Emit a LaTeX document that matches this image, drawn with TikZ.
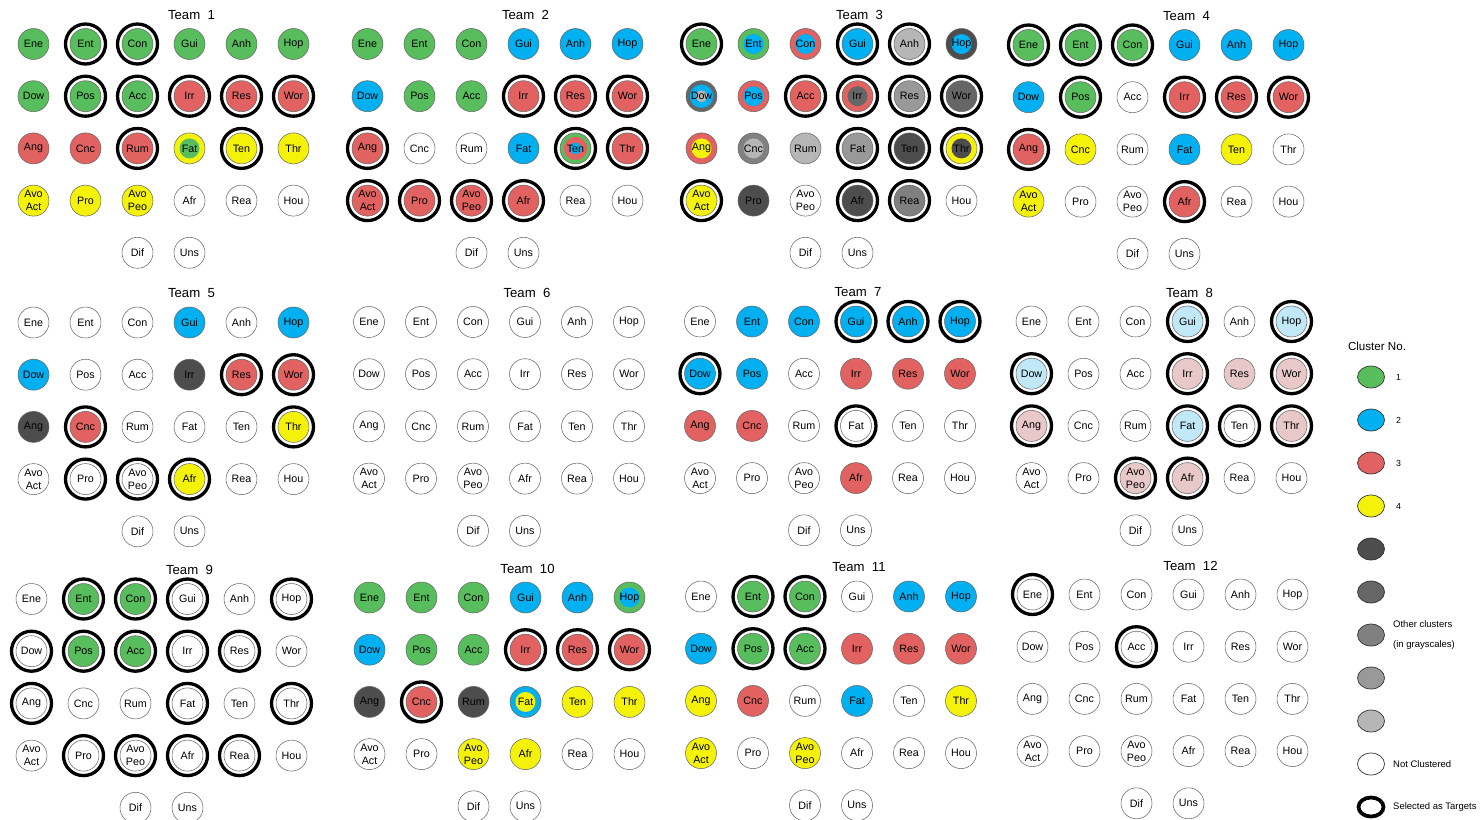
\documentclass[tikz,border=0pt]{standalone}
\usepackage{fontspec}
\setmainfont{Liberation Sans}
\usetikzlibrary{shapes.geometric}

\definecolor{kgreen}{RGB}{88,189,92}
\definecolor{kblue}{RGB}{0,176,240}
\definecolor{kred}{RGB}{226,98,98}
\definecolor{kyellow}{RGB}{245,242,10}
\definecolor{kgrayA}{RGB}{77,77,77}
\definecolor{kgrayB}{RGB}{102,102,102}
\definecolor{kgrayC}{RGB}{128,128,128}
\definecolor{kgrayD}{RGB}{153,153,153}
\definecolor{kgrayE}{RGB}{182,182,182}
\definecolor{klblue}{RGB}{192,232,246}
\definecolor{klpink}{RGB}{232,200,200}

% labels of the 26 items, in reading order
\foreach \lbl [count=\n from 0] in {Ene,Ent,Con,Gui,Anh,Hop,Dow,Pos,Acc,Irr,Res,Wor,
  Ang,Cnc,Rum,Fat,Ten,Thr,{Avo\\Act},Pro,{Avo\\Peo},Afr,Rea,Hou,Dif,Uns}
  {\expandafter\global\expandafter\let\csname lab\n\endcsname\lbl}

% one team: #1 number, #2/#3 centre of Ene, #4 fills, #5 targets
\newcommand\team[5]{%
  \node[teamtitle] (team#1) at (#2+158,#3-29) {Team~~#1};
  \foreach \fc [count=\i from 0] in {#4} {
    \pgfmathsetmacro\cx{#2+52*(\i<24 ? mod(\i,6) : \i-22)}
    \pgfmathsetmacro\cy{#3+52.2*int(\i/6)}
    \node[cell,\fc] (t#1-\i) at (\cx,\cy) {\csname lab\i\endcsname};
  }
  \foreach \k in {#5} {\ifx\k\empty\else\draw[tgring] (t#1-\k.center) circle[radius=4mm];\fi}
}

\begin{document}
\begin{tikzpicture}[x=0.02cm, y=-0.02cm,
  cell/.style={circle, draw=black!60, line width=0.3pt, fill=white, minimum size=6.2mm,
    inner sep=0pt, align=center, font=\fontsize{6.1}{7.2}\selectfont},
  tgring/.style={draw=black, line width=0.66mm},
  teamtitle/.style={font=\fontsize{7.5}{9}\selectfont},
  core/.style={path picture={\fill[#1] (path picture bounding box.center) circle[radius=2mm];}},
  core2/.style 2 args={path picture={
      \fill[#1] (path picture bounding box.center) circle[radius=2.35mm];
      \fill[#2] (path picture bounding box.center) circle[radius=1.15mm];}},
  fw/.style={fill=white}, fg/.style={fill=kgreen}, fb/.style={fill=kblue},
  fr/.style={fill=kred}, fy/.style={fill=kyellow},
  fA/.style={fill=kgrayA}, fB/.style={fill=kgrayB}, fC/.style={fill=kgrayC},
  fD/.style={fill=kgrayD}, fE/.style={fill=kgrayE},
  flb/.style={fill=klblue}, flp/.style={fill=klpink},
  fyg/.style={fill=kyellow, core=kgreen}, fgb/.style={fill=kgreen, core=kblue},
  frb/.style={fill=kred, core=kblue}, fAb/.style={fill=kgrayA, core=kblue},
  frB/.style={fill=kred, core=kgrayB}, fry/.style={fill=kred, core=kyellow},
  fCE/.style={fill=kgrayC, core=kgrayE}, fyA/.style={fill=kyellow, core=kgrayA},
  fby/.style={fill=kblue, core=kyellow},
  fgrb/.style={fill=kgreen, core2={kred}{kblue}},
  fBbE/.style={fill=kgrayB, core2={kblue}{kgrayE}},
  legkey/.style={ellipse, draw=black!80, line width=0.4pt, minimum width=5.4mm, minimum height=4.4mm},
  legtext/.style={anchor=west, font=\fontsize{5.4}{6.5}\selectfont}]

\useasboundingbox (0,0) rectangle (1481,819);

% =================================================================================
% ROW 1
% =================================================================================
\team{1}{33.5}{44}{fg,fg,fg,fg,fg,fg,fg,fg,fg,fr,fr,fr,
  fr,fr,fr,fyg,fy,fy,fy,fy,fy,fw,fw,fw,fw,fw}{1,2,7,8,9,10,11,14,16}
\team{2}{367.5}{44}{fg,fg,fg,fb,fb,fb,fb,fg,fg,fr,fr,fr,
  fr,fw,fw,fb,fgrb,fr,fr,fr,fr,fr,fw,fw,fw,fw}{9,10,11,12,16,17,18,19,20,21}
\team{3}{701.5}{44}{fg,fgb,frb,fb,fE,fAb,fBbE,frb,fr,frB,fD,fB,
  fry,fCE,fE,fD,fA,fyA,fy,fA,fw,fA,fC,fw,fw,fw}{0,3,4,8,9,10,11,15,16,17,18,21,22}
\team{4}{1028.5}{45}{fg,fg,fg,fb,fb,fb,fb,fg,fw,fr,fr,fr,
  fr,fy,fw,fb,fy,fw,fy,fw,fw,fr,fw,fw,fw,fw}{0,1,2,7,9,10,11,12,21}

% =================================================================================
% ROW 2
% =================================================================================
\team{5}{33.5}{322.5}{fw,fw,fw,fb,fw,fb,fb,fw,fw,fA,fr,fr,
  fA,fr,fw,fw,fw,fy,fw,fw,fw,fy,fw,fw,fw,fw}{10,11,13,17,19,20,21}
\team{6}{369}{322}{fw,fw,fw,fw,fw,fw,fw,fw,fw,fw,fw,fw,
  fw,fw,fw,fw,fw,fw,fw,fw,fw,fw,fw,fw,fw,fw}{}
\team{7}{700}{321.5}{fw,fb,fb,fb,fb,fb,fb,fb,fw,fr,fr,fr,
  fr,fr,fw,fw,fw,fw,fw,fw,fw,fr,fw,fw,fw,fw}{3,4,5,6,15}
\team{8}{1031.5}{321.5}{fw,fw,fw,flb,fw,flb,flb,fw,fw,flp,flp,flp,
  flp,fw,fw,flb,fw,flp,fw,fw,flp,flp,fw,fw,fw,fw}{3,5,6,9,11,12,15,16,17,20,21}

% =================================================================================
% ROW 3
% =================================================================================
\team{9}{31.5}{599}{fw,fg,fg,fw,fw,fw,fw,fg,fg,fw,fw,fw,
  fw,fw,fw,fw,fw,fw,fw,fw,fw,fw,fw,fw,fw,fw}{1,2,3,5,6,7,8,9,10,12,15,17,19,20,21,22}
\team{10}{369.5}{597.5}{fg,fg,fg,fb,fb,fgb,fb,fg,fg,fr,fr,fr,
  fA,fr,fA,fby,fy,fy,fw,fw,fy,fy,fw,fw,fw,fw}{9,10,11,13}
\team{11}{701}{596.5}{fw,fg,fg,fw,fb,fb,fb,fg,fg,fr,fr,fr,
  fy,fr,fw,fb,fw,fy,fy,fw,fy,fw,fw,fw,fw,fw}{1,2,7,8}
\team{12}{1032.5}{594.5}{fw,fw,fw,fw,fw,fw,fw,fw,fw,fw,fw,fw,
  fw,fw,fw,fw,fw,fw,fw,fw,fw,fw,fw,fw,fw,fw}{0,8}

% =================================================================================
% legend
% =================================================================================
\node[font=\fontsize{6.6}{8}\selectfont] (leghead) at (1377,346) {Cluster No.};
\foreach \col [count=\k] in {kgreen,kblue,kred,kyellow,kgrayA,kgrayB,kgrayC,kgrayD,kgrayE,white}
  \node[legkey, fill=\col] (key\k) at (1371,{334+43*\k}) {};
\node[legkey, fill=white, draw=black, line width=0.75mm, minimum width=5mm, minimum height=3.8mm]
  (key11) at (1371,807) {};

\node[legtext, font=\fontsize{5}{6}\selectfont] (num1) at (1390,377) {1};
\node[legtext, font=\fontsize{5}{6}\selectfont] (num2) at (1390,420) {2};
\node[legtext, font=\fontsize{5}{6}\selectfont] (num3) at (1390,463) {3};
\node[legtext, font=\fontsize{5}{6}\selectfont] (num4) at (1390,506) {4};
\node[legtext] (other1) at (1387,624) {Other clusters};
\node[legtext] (other2) at (1387,645) {(in grayscales)};
\node[legtext] (notcl) at (1387,764) {Not Clustered};
\node[legtext] (selt) at (1387,807) {Selected as Targets};

\end{tikzpicture}
\end{document}
